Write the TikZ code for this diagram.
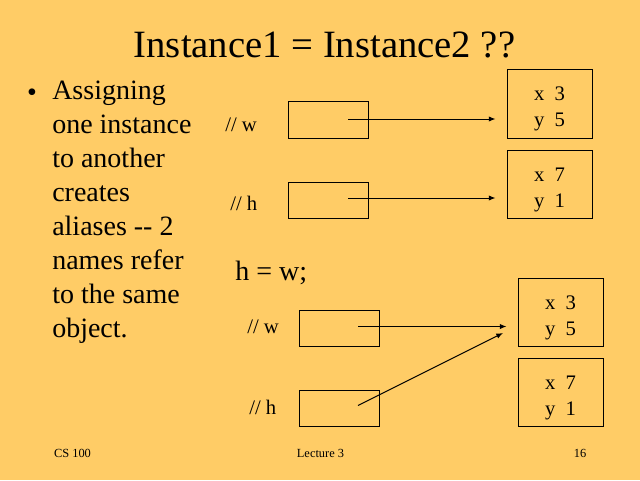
\documentclass[tikz,border=0pt]{standalone}
\usepackage{fontspec}
\setmainfont{Liberation Serif}
\usetikzlibrary{arrows.meta}
\definecolor{bg}{HTML}{FFCC66}
\newcommand{\objtop}{\rule{0pt}{14.5pt}}
\begin{document}
\begin{tikzpicture}[x=0.75pt,y=-0.75pt,
 refbox/.style={draw=black,line width=0.75pt,minimum width=60pt,minimum height=27.5pt,inner sep=0pt},
 objbox/.style={draw=black,line width=0.75pt,minimum width=63.75pt,minimum height=51.5pt,inner sep=0pt,align=center,text depth=0pt,font=\fontsize{15.5}{19.5}\selectfont},
 lbl/.style={font=\fontsize{15.5}{18}\selectfont,anchor=base west,inner sep=0pt},
 ptr/.style={line width=0.75pt,-{Latex[length=5pt,width=4pt]}},
 foot/.style={font=\fontsize{9.3}{11}\selectfont,inner sep=0pt}]
\fill[bg] (0,0) rectangle (640,480);
\useasboundingbox (0,0) rectangle (640,480);
% title
\node[font=\fontsize{29}{34}\selectfont,anchor=base,inner sep=0pt] (title) at (324.5,57) {Instance1 = Instance2 ??};
% bullet
\node[font=\fontsize{21}{21}\selectfont,anchor=base,inner sep=0pt] (bul) at (32,101) {•};
\node[font=\fontsize{21}{25.5}\selectfont,align=left,anchor=base west,inner sep=0pt] (btext) at (52,337)
 {Assigning\\one instance\\to another\\creates\\aliases -{}- 2\\names refer\\to the same\\object.};
% top part
\node[lbl] (lw1) at (225,131) {// w};
\node[lbl] (lh1) at (230,210) {// h};
\node[refbox] (w1) at (328,120) {};
\node[refbox] (h1) at (328,200.5) {};
\node[objbox] (o1) at (549.5,104) {\objtop x~~3\\y~~5};
\node[objbox] (o2) at (549.5,184.5) {\objtop x~~7\\y~~1};
\coordinate (w1s) at (348,119);
\coordinate (h1s) at (348,198);
\draw[ptr,shorten >=8.25pt] (w1s) -- (w1s -| o1.west);
\draw[ptr,shorten >=8.25pt] (h1s) -- (h1s -| o2.west);
% assignment
\node[font=\fontsize{21}{25}\selectfont,anchor=base west,inner sep=0pt] (assign) at (235,280) {h = w;};
% bottom part
\node[lbl] (lw2) at (247,333) {// w};
\node[lbl] (lh2) at (249,414) {// h};
\node[refbox] (w2) at (339,328.5) {};
\node[refbox] (h2) at (339,408.5) {};
\node[objbox] (o3) at (560.5,312.5) {\objtop x~~3\\y~~5};
\node[objbox] (o4) at (560.5,392.5) {\objtop x~~7\\y~~1};
\coordinate (w2s) at (358,326.5);
\coordinate (h2s) at (358,405.5);
\coordinate (h2e) at (503,333);
\draw[ptr,shorten >=8.25pt] (w2s) -- (w2s -| o3.west);
\draw[ptr] (h2s) -- (h2e);
% footer
\node[foot] (f1) at (72.5,453) {CS 100};
\node[foot] (f2) at (320.5,453) {Lecture 3};
\node[foot] (f3) at (580,453) {16};
\end{tikzpicture}
\end{document}
